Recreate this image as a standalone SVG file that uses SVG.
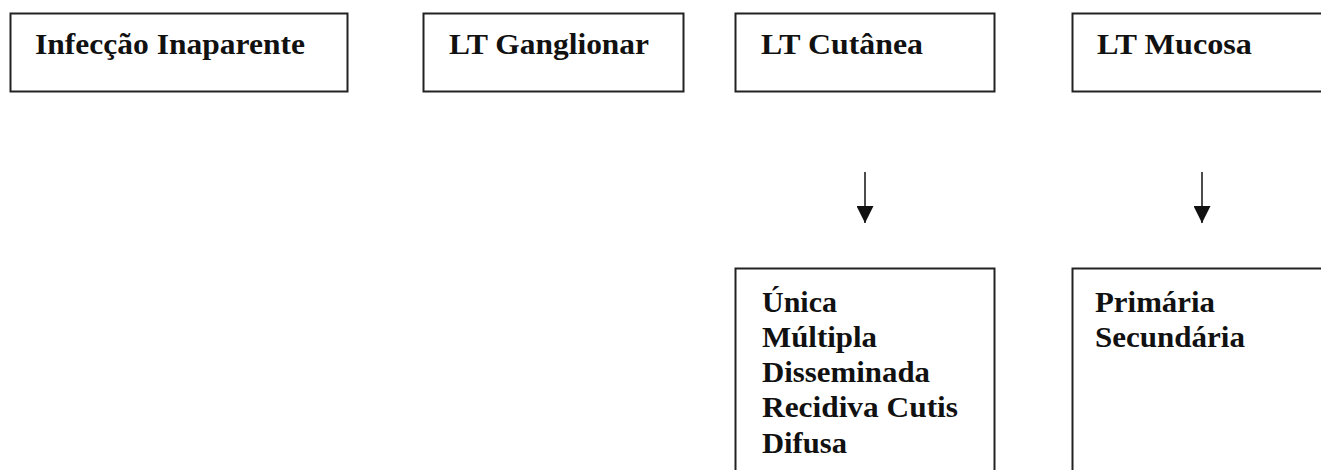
<svg xmlns="http://www.w3.org/2000/svg" width="1321" height="470" viewBox="0 0 1321 470">
<style>
.box{fill:#fff;stroke:#222;stroke-width:2}
.t{font-family:"Liberation Serif","Times New Roman",serif;font-weight:bold;font-size:29px;fill:#111}
.c{stroke:#111;stroke-width:1.5;fill:none}
</style>
<defs>
<marker id="ah" viewBox="0 0 17 17" refX="17" refY="8.5" markerWidth="17" markerHeight="17" markerUnits="userSpaceOnUse" orient="auto">
<path d="M0,0 L17,8.5 L0,17 Z" fill="#111"/>
</marker>
</defs>
<rect width="1321" height="470" fill="#fff"/>
<g id="n1"><rect class="box" x="10.5" y="13.5" width="337" height="78"/><text class="t" x="35" y="54" textLength="270" lengthAdjust="spacingAndGlyphs">Infecção Inaparente</text></g>
<g id="n2"><rect class="box" x="423.5" y="13.5" width="260" height="78"/><text class="t" x="449" y="54" textLength="200" lengthAdjust="spacingAndGlyphs">LT Ganglionar</text></g>
<g id="n3"><rect class="box" x="735.5" y="13.5" width="259" height="78"/><text class="t" x="761" y="54" textLength="162" lengthAdjust="spacingAndGlyphs">LT Cutânea</text></g>
<g id="n4"><rect class="box" x="1072.5" y="13.5" width="270" height="78"/><text class="t" x="1097" y="54" textLength="155" lengthAdjust="spacingAndGlyphs">LT Mucosa</text></g>
<g id="n5"><rect class="box" x="735.5" y="268.5" width="259" height="220"/>
<text class="t" x="762" y="311.5" textLength="75" lengthAdjust="spacingAndGlyphs">Única</text>
<text class="t" x="762" y="346.8" textLength="115" lengthAdjust="spacingAndGlyphs">Múltipla</text>
<text class="t" x="762" y="382" textLength="168" lengthAdjust="spacingAndGlyphs">Disseminada</text>
<text class="t" x="762" y="417.3" textLength="196" lengthAdjust="spacingAndGlyphs">Recidiva Cutis</text>
<text class="t" x="762" y="452.6" textLength="85" lengthAdjust="spacingAndGlyphs">Difusa</text>
</g>
<g id="n6"><rect class="box" x="1072.5" y="268.5" width="270" height="220"/>
<text class="t" x="1095" y="311.5" textLength="120" lengthAdjust="spacingAndGlyphs">Primária</text>
<text class="t" x="1095" y="346.8" textLength="150" lengthAdjust="spacingAndGlyphs">Secundária</text>
</g>
<g id="connectors">
<line class="c" x1="865" y1="172" x2="865" y2="223" marker-end="url(#ah)"/>
<line class="c" x1="1202" y1="172" x2="1202" y2="223" marker-end="url(#ah)"/>
</g>
</svg>
